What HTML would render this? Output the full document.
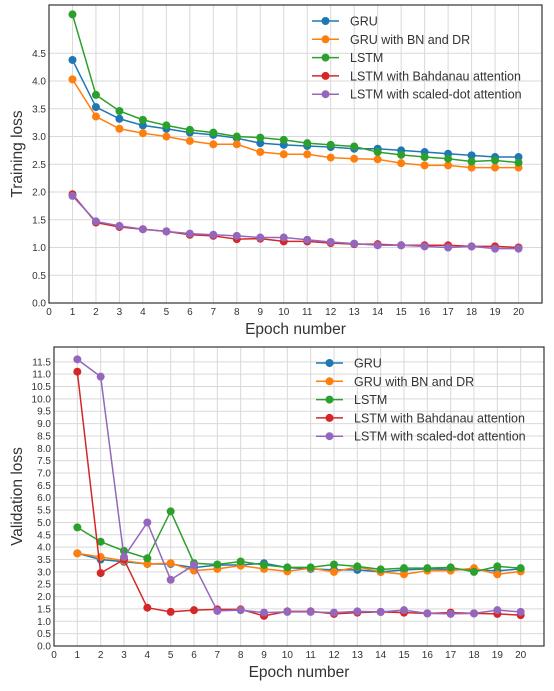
<!DOCTYPE html>
<html><head><meta charset="utf-8"><style>
body{margin:0;background:#fff;}
svg text{font-family:"Liberation Sans",sans-serif;}
</style></head><body>
<svg id="c" width="554" height="686" xmlns="http://www.w3.org/2000/svg"></svg>
<script>
const epochs=[1,2,3,4,5,6,7,8,9,10,11,12,13,14,15,16,17,18,19,20];
const seriesNames=["GRU","GRU with BN and DR","LSTM","LSTM with Bahdanau attention","LSTM with scaled-dot attention"];
const colors=["#1f77b4","#ff7f0e","#2ca02c","#d62728","#9467bd"];
const trainGRU=[4.38,3.53,3.32,3.2,3.14,3.07,3.03,2.97,2.88,2.85,2.83,2.81,2.78,2.78,2.75,2.72,2.69,2.66,2.63,2.63];
const trainGRUBN=[4.03,3.36,3.14,3.06,3.0,2.92,2.86,2.86,2.72,2.68,2.68,2.62,2.6,2.59,2.52,2.48,2.48,2.44,2.44,2.44];
const trainLSTM=[5.2,3.75,3.46,3.3,3.2,3.12,3.07,3.0,2.98,2.94,2.88,2.85,2.82,2.72,2.67,2.63,2.6,2.55,2.57,2.53];
const trainBahdanau=[1.96,1.45,1.37,1.33,1.29,1.23,1.21,1.15,1.16,1.11,1.11,1.08,1.06,1.06,1.04,1.04,1.04,1.02,1.02,1.0];
const trainScaled=[1.93,1.47,1.39,1.33,1.29,1.25,1.23,1.21,1.18,1.18,1.14,1.1,1.07,1.04,1.04,1.02,1.0,1.02,0.98,0.98];
const valGRU=[3.75,3.5,3.41,3.32,3.32,3.17,3.28,3.28,3.35,3.17,3.12,3.08,3.08,3.0,3.08,3.12,3.1,3.08,3.04,3.12];
const valGRUBN=[3.75,3.6,3.45,3.32,3.35,3.05,3.12,3.25,3.12,3.02,3.15,3.0,3.2,3.0,2.9,3.05,3.05,3.15,2.9,3.02];
const valLSTM=[4.8,4.22,3.85,3.55,5.45,3.35,3.3,3.42,3.28,3.18,3.18,3.3,3.22,3.1,3.15,3.15,3.18,3.0,3.22,3.15];
const valBahdanau=[11.1,2.95,3.5,1.55,1.38,1.45,1.48,1.48,1.22,1.4,1.4,1.3,1.35,1.38,1.35,1.32,1.35,1.32,1.3,1.25];
const valScaled=[11.6,10.9,3.6,5.0,2.68,3.28,1.42,1.45,1.35,1.38,1.38,1.35,1.4,1.38,1.45,1.32,1.3,1.32,1.45,1.38];
const xTicks=[0,1,2,3,4,5,6,7,8,9,10,11,12,13,14,15,16,17,18,19,20];
const trainYTicks=[0,0.5,1,1.5,2,2.5,3,3.5,4,4.5];
const valYTicks=[0,0.5,1,1.5,2,2.5,3,3.5,4,4.5,5,5.5,6,6.5,7,7.5,8,8.5,9,9.5,10,10.5,11,11.5];

const NS="http://www.w3.org/2000/svg";
const svg=document.getElementById('c');
function mk(tag,attrs,parent){const e=document.createElementNS(NS,tag);for(const k in attrs)e.setAttribute(k,attrs[k]);(parent||svg).appendChild(e);return e;}

function chart(o){
  const g=mk('g',{});
  
  
  const xs=v=>o.x0+(v-0)/(21)*(o.x1-o.x0);
  const ys=v=>o.y1-(v/o.ymax)*(o.y1-o.y0);
  // grid
  xTicks.forEach(t=>{const l=mk('line',{x1:xs(t),x2:xs(t),y1:o.y0,y2:o.y1,stroke:'#d9d9d9','stroke-width':1},g);
    
    const tx=mk('text',{x:xs(t),y:o.y1+12,'font-size':10,fill:'#333','text-anchor':'middle'},g);tx.textContent=t;
    });
  o.yTicks.forEach(t=>{const l=mk('line',{x1:o.x0,x2:o.x1,y1:ys(t),y2:ys(t),stroke:'#d9d9d9','stroke-width':1},g);
    
    const tx=mk('text',{x:o.x0-3,y:ys(t)+3.5,'font-size':10,fill:'#333','text-anchor':'end'},g);tx.textContent=t.toFixed(1);
    });
  o.series.forEach((s,i)=>{
    const pl=mk('polyline',{points:s.map((v,j)=>xs(epochs[j])+','+ys(v)).join(' '),fill:'none',stroke:colors[i],'stroke-width':1.5},g);
    
    s.forEach((v,j)=>{const c=mk('circle',{cx:xs(epochs[j]),cy:ys(v),r:4,fill:colors[i]},g);
      });
  });
  const fr=mk('rect',{x:o.x0,y:o.y0,width:o.x1-o.x0,height:o.y1-o.y0,fill:'none',stroke:'#333','stroke-width':1.2},g);
  
  // legend
  seriesNames.forEach((n,i)=>{const y=o.legY+i*18.3;
    const lg=mk('g',{},g);
    mk('line',{x1:o.legX,x2:o.legX+27,y1:y,y2:y,stroke:colors[i],'stroke-width':1.5},lg);
    mk('circle',{cx:o.legX+13.5,cy:y,r:4,fill:colors[i]},lg);
    const t=mk('text',{x:o.legX+38,y:y+4.5,'font-size':12.5,fill:'#333'},lg);t.textContent=n;});
  const xl=mk('text',{x:(o.x0+o.x1)/2,y:o.y1+31,'font-size':15.5,fill:'#333','text-anchor':'middle'},g);xl.textContent='Epoch number';
  
  const cy=(o.y0+o.y1)/2;
  const yl=mk('text',{x:22,y:cy,'font-size':15.5,fill:'#333','text-anchor':'middle',transform:'rotate(-90 22 '+cy+')'},g);yl.textContent=o.ylabel;
  
}
chart({name:'training-loss-chart',x0:49,x1:542,y0:5,y1:303,ymax:5.37,yTicks:trainYTicks,series:[trainGRU,trainGRUBN,trainLSTM,trainBahdanau,trainScaled],ylabel:'Training loss',legX:312,legY:21});
chart({name:'validation-loss-chart',x0:54,x1:544,y0:347,y1:646,ymax:12.1,yTicks:valYTicks,series:[valGRU,valGRUBN,valLSTM,valBahdanau,valScaled],ylabel:'Validation loss',legX:316,legY:363});
</script>
</body></html>
